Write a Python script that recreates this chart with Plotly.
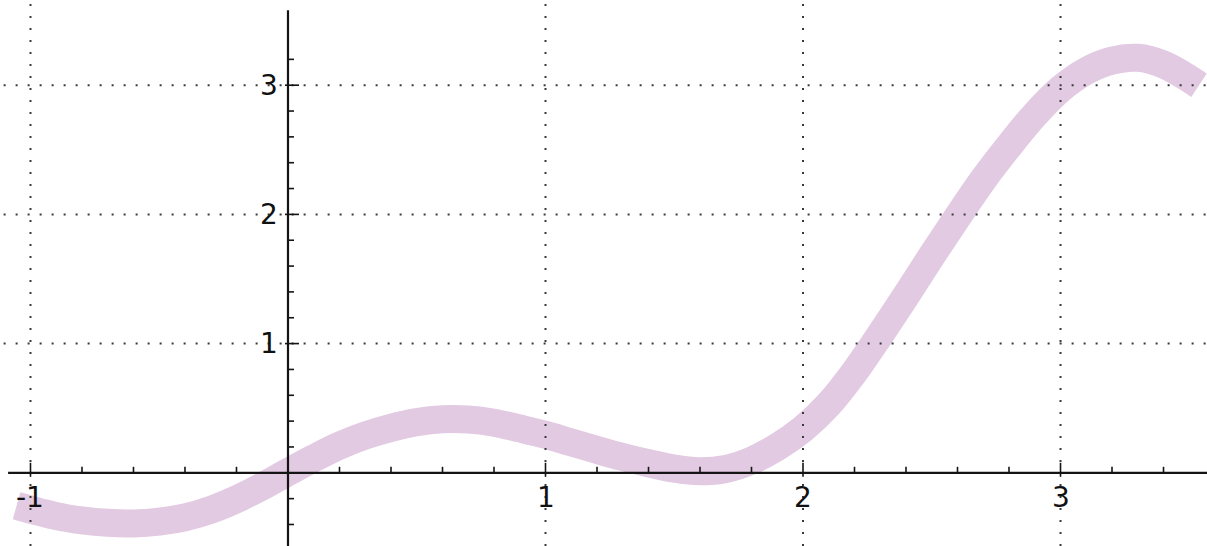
import numpy as np
import plotly.graph_objects as go

# Sampled curve (centre line)
curve_x = [-1.054, -0.9, -0.8, -0.7, -0.6, -0.5, -0.4, -0.3, -0.2, -0.1,
           0.0, 0.1, 0.2, 0.3, 0.4, 0.5, 0.6, 0.7, 0.8, 0.9,
           1.0, 1.1, 1.2, 1.3, 1.4, 1.5, 1.6, 1.7, 1.8, 1.9,
           2.0, 2.1, 2.2, 2.3, 2.4, 2.5, 2.6, 2.7, 2.8, 2.9,
           3.0, 3.1, 3.2, 3.3, 3.4, 3.538]
curve_y = [-0.255, -0.335, -0.368, -0.387, -0.392, -0.378, -0.345, -0.287, -0.205, -0.105,
           0.005, 0.112, 0.21, 0.288, 0.348, 0.392, 0.414, 0.412, 0.388, 0.343,
           0.294, 0.235, 0.177, 0.122, 0.074, 0.032, 0.012, 0.03, 0.095, 0.2,
           0.34, 0.53, 0.78, 1.07, 1.37, 1.68, 1.98, 2.27, 2.53, 2.77,
           2.97, 3.11, 3.19, 3.212, 3.16, 3.0]

# Axis ticks and labels
x_major = [-1, 1, 2, 3]
x_major_labels = ["-1", "1", "2", "3"]
y_major = [1, 2, 3]
y_major_labels = ["1", "2", "3"]
x_minor = [round(v, 1) for v in np.arange(-1.0, 3.41, 0.2)]
y_minor = [round(v, 1) for v in np.arange(-0.4, 3.21, 0.2)]

X_RANGE = [-1.1184, 3.5689]
Y_RANGE = [-0.5666, 3.6594]

AXIS_COLOR = "#141414"
GRID_COLOR = "#3a3a3a"
CURVE_COLOR = "#e2cae2"
FONT = "DejaVu Sans"

fig = go.Figure()
fig.add_trace(go.Scatter(
    x=curve_x, y=curve_y, mode="lines",
    line=dict(color=CURVE_COLOR, width=28, shape="spline", smoothing=1.0),
    hoverinfo="skip", showlegend=False,
))

shapes = []
# dotted grid lines at the major ticks
for t in x_major:
    shapes.append(dict(type="line", xref="x", yref="paper", x0=t, x1=t, y0=0, y1=1,
                       line=dict(color=GRID_COLOR, width=2, dash="2px,10px"), layer="above"))
for t in y_major:
    shapes.append(dict(type="line", xref="paper", yref="y", x0=0.003, x1=1, y0=t, y1=t,
                       line=dict(color=GRID_COLOR, width=2, dash="2px,10px"), layer="above"))

# axes through the origin
shapes.append(dict(type="line", xref="x", yref="y", x0=-1.087, x1=X_RANGE[1], y0=0, y1=0,
                   line=dict(color=AXIS_COLOR, width=2.2), layer="above"))
shapes.append(dict(type="line", xref="x", yref="y", x0=0, x1=0, y0=Y_RANGE[0], y1=3.58,
                   line=dict(color=AXIS_COLOR, width=2.2), layer="above"))

# tick marks on the x axis
for t in x_minor:
    if abs(t) < 1e-9:
        continue
    major = abs(t - round(t)) < 1e-9
    shapes.append(dict(type="line", xref="x", yref="y", ysizemode="pixel", yanchor=0,
                       x0=t, x1=t, y0=-4 if major else 0, y1=10 if major else 6,
                       line=dict(color=AXIS_COLOR, width=1.6), layer="above"))
# tick marks on the y axis
for t in y_minor:
    if abs(t) < 1e-9:
        continue
    major = abs(t - round(t)) < 1e-9
    shapes.append(dict(type="line", xref="x", yref="y", xsizemode="pixel", xanchor=0,
                       y0=t, y1=t, x0=-3 if major else 0, x1=11 if major else 6,
                       line=dict(color=AXIS_COLOR, width=1.6), layer="above"))

annotations = []
for t, lab in zip(x_major, x_major_labels):
    annotations.append(dict(x=t, y=0, xref="x", yref="y", text=lab, showarrow=False,
                            xanchor="center", yanchor="top", yshift=-6,
                            font=dict(family=FONT, size=28, color="#111111")))
for t, lab in zip(y_major, y_major_labels):
    annotations.append(dict(x=0, y=t, xref="x", yref="y", text=lab, showarrow=False,
                            xanchor="right", yanchor="middle", xshift=-8,
                            font=dict(family=FONT, size=28, color="#111111")))

hidden = dict(showgrid=False, zeroline=False, showticklabels=False, showline=False,
              ticks="", fixedrange=True)
fig.update_layout(
    width=1207, height=546, margin=dict(l=0, r=0, t=0, b=0),
    paper_bgcolor="white", plot_bgcolor="white",
    xaxis=dict(range=X_RANGE, **hidden),
    yaxis=dict(range=Y_RANGE, **hidden),
    shapes=shapes, annotations=annotations, showlegend=False,
)

fig.write_html("out.html")
